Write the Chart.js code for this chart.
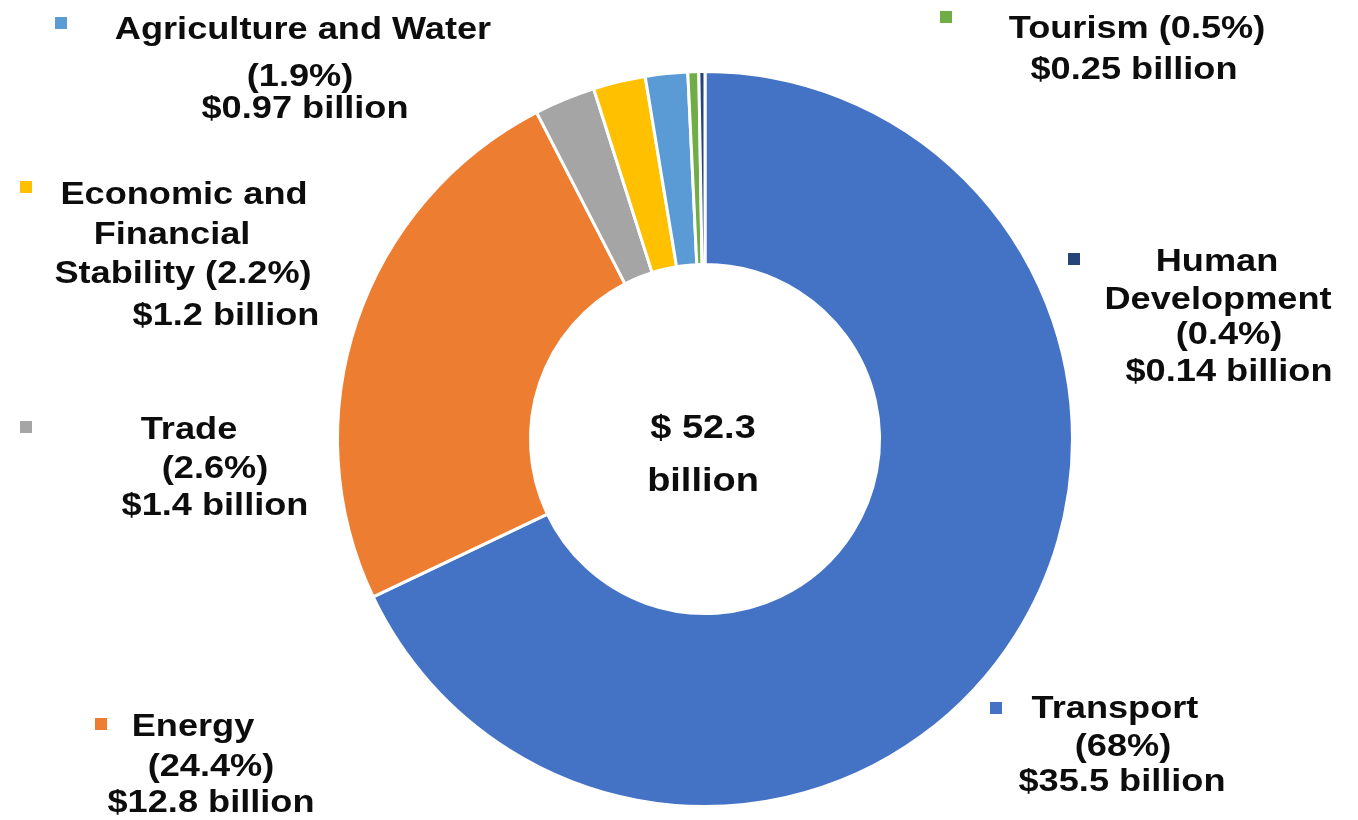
<!DOCTYPE html>
<html>
<head>
<meta charset="utf-8">
<script src="https://cdn.jsdelivr.net/npm/chart.js@4/dist/chart.umd.min.js"></script>
<style>
  html, body { margin: 0; padding: 0; background: #ffffff; }
  #wrap { position: relative; width: 1358px; height: 820px; }
  canvas { display: block; }
</style>
</head>
<body>
<div id="wrap"><canvas id="c" width="1358" height="820"></canvas></div>
<script>
// ---- data ----
const categories = ["Transport", "Energy", "Trade", "Economic and Financial Stability", "Agriculture and Water", "Tourism", "Human Development"];
const billions = [35.5, 12.8, 1.4, 1.2, 0.97, 0.25, 0.14];
const percents = ["68%", "24.4%", "2.6%", "2.2%", "1.9%", "0.5%", "0.4%"];
const colors = ["#4472C4", "#ED7D31", "#A5A5A5", "#FFC000", "#5B9BD5", "#70AD47", "#264478"];
const totalText = ["$ 52.3", "billion"];

// label text lines per category (same order as categories)
const labelLines = [
  ["Transport", "(" + percents[0] + ")", "$" + billions[0] + " billion"],
  ["Energy", "(" + percents[1] + ")", "$" + billions[1] + " billion"],
  ["Trade", "(" + percents[2] + ")", "$" + billions[2] + " billion"],
  ["Economic and", "Financial", "Stability (" + percents[3] + ")", "$" + billions[3] + " billion"],
  ["Agriculture and Water", "(" + percents[4] + ")", "$" + billions[4] + " billion"],
  ["Tourism (" + percents[5] + ")", "$" + billions[5] + " billion"],
  ["Human", "Development", "(" + percents[6] + ")", "$" + billions[6] + " billion"]
];

// ---- layout for the annotation labels ----
const labelLayout = [
  { marker: [990, 702], lines: [[1115, 718], [1123, 756], [1122, 791]] },
  { marker: [95, 718], lines: [[193, 736], [211, 776], [211, 812]] },
  { marker: [20, 421], lines: [[189, 439], [215, 478], [215, 515]] },
  { marker: [20, 181], lines: [[184, 204], [172, 244], [183, 283], [226, 325]] },
  { marker: [55, 17], lines: [[303, 39], [300, 86], [305, 118]] },
  { marker: [940, 11], lines: [[1137, 38], [1134, 79]] },
  { marker: [1068, 253], lines: [[1217, 271], [1218, 309], [1229, 344], [1229, 381]] }
];

const SX = 1.13;

function drawText(ctx, txt, x, y, size, sx) {
  ctx.save();
  ctx.translate(x, y);
  ctx.scale(sx, 1);
  ctx.font = "bold " + size + "px 'Liberation Sans', Arial, sans-serif";
  ctx.textAlign = "center";
  ctx.textBaseline = "alphabetic";
  ctx.fillStyle = "#0d0d0d";
  ctx.fillText(txt, 0, 0);
  ctx.restore();
}

const annotations = {
  id: "annotations",
  afterDraw(chart) {
    const ctx = chart.ctx;
    labelLayout.forEach((lay, i) => {
      ctx.save();
      ctx.fillStyle = colors[i];
      ctx.fillRect(lay.marker[0], lay.marker[1], 12, 12);
      ctx.restore();
      lay.lines.forEach((p, j) => drawText(ctx, labelLines[i][j], p[0], p[1], 32, SX));
    });
    const arc = chart.getDatasetMeta(0).data[0];
    drawText(ctx, totalText[0], arc.x - 2, arc.y - 1, 33, 1.15);
    drawText(ctx, totalText[1], arc.x - 2, arc.y + 52, 33, 1.15);
  }
};

const bg = {
  id: "bg",
  beforeDraw(chart) {
    const ctx = chart.ctx;
    ctx.save();
    ctx.fillStyle = "#ffffff";
    ctx.fillRect(0, 0, chart.width, chart.height);
    ctx.restore();
  }
};

new Chart(document.getElementById("c"), {
  type: "doughnut",
  data: {
    labels: categories,
    datasets: [{
      data: billions,
      backgroundColor: colors,
      borderColor: "#ffffff",
      borderWidth: 3,
      hoverOffset: 0
    }]
  },
  options: {
    responsive: false,
    animation: false,
    cutout: "47.5%",
    rotation: 0,
    layout: { padding: { left: 336, right: 284, top: 70, bottom: 12 } },
    plugins: {
      legend: { display: false },
      tooltip: { enabled: false }
    }
  },
  plugins: [bg, annotations]
});
</script>
</body>
</html>
